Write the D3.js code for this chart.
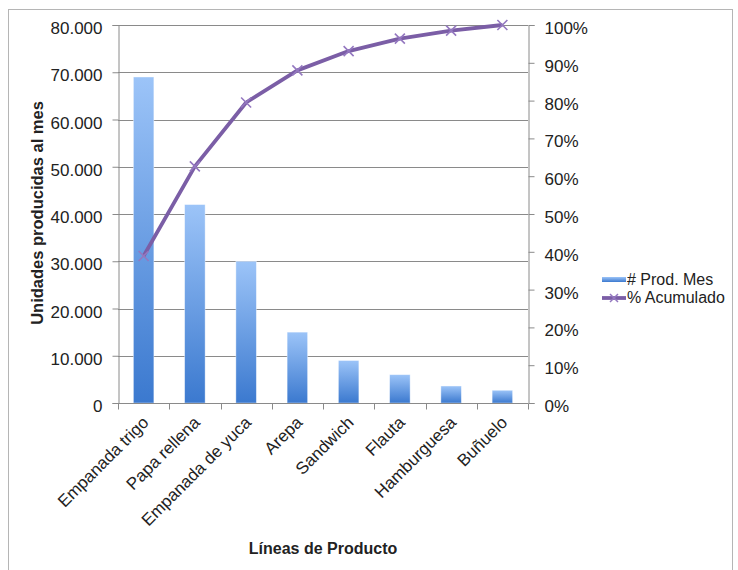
<!DOCTYPE html>
<html>
<head>
<meta charset="utf-8">
<script src="https://cdn.jsdelivr.net/npm/d3@7/dist/d3.min.js"></script>
<style>
  html, body { margin: 0; padding: 0; background: #fff; }
  svg { display: block; font-family: "Liberation Sans", Arial, Helvetica, sans-serif; }
</style>
</head>
<body>
<svg id="chart" width="738" height="570"></svg>
<script>
// Product lines, monthly production and cumulative share
const categories = ["Empanada trigo", "Papa rellena", "Empanada de yuca", "Arepa", "Sandwich", "Flauta", "Hamburguesa", "Buñuelo"];
const prodMes = [69000, 42000, 30000, 15000, 9000, 6000, 3600, 2700];
const pctAcum = [38.9, 62.6, 79.5, 88.0, 93.1, 96.4, 98.5, 100];
const leftTicks = [0, 10000, 20000, 30000, 40000, 50000, 60000, 70000, 80000];
const rightTicks = [0, 10, 20, 30, 40, 50, 60, 70, 80, 90, 100];
const seriesNames = ["# Prod. Mes", "% Acumulado"];

const svg = d3.select("#chart");
const plot = { left: 118, right: 528, top: 25, bottom: 403 };
const axisColor = "#8a8a8a";
const textColor = "#222";

// Outer frame
svg.append("rect")
  .attr("x", 8.5).attr("y", 9.5)
  .attr("width", 724).attr("height", 580)
  .attr("fill", "none").attr("stroke", "#b5b5b5").attr("stroke-width", 1);

const x = d3.scaleBand().domain(categories).range([plot.left, plot.right]).padding(0);
const y = d3.scaleLinear().domain([0, 80000]).range([plot.bottom, plot.top]);
const y2 = d3.scaleLinear().domain([0, 100]).range([plot.bottom, plot.top]);

const es = d3.formatLocale({ decimal: ",", thousands: ".", grouping: [3], currency: ["$", ""] });
const fmtThousands = es.format(",d");

// Bar gradient: light at the top, deeper blue at the base
const defs = svg.append("defs");
const grad = defs.append("linearGradient")
  .attr("id", "barGrad").attr("x1", 0).attr("y1", 0).attr("x2", 0).attr("y2", 1);
grad.append("stop").attr("offset", "0%").attr("stop-color", "#9cc4f8");
grad.append("stop").attr("offset", "100%").attr("stop-color", "#3b79cf");

// Horizontal gridlines
svg.append("g")
  .selectAll("line")
  .data(leftTicks)
  .join("line")
  .attr("x1", plot.left).attr("x2", plot.right)
  .attr("y1", d => Math.round(y(d)) + 0.5).attr("y2", d => Math.round(y(d)) + 0.5)
  .attr("stroke", axisColor).attr("stroke-width", 1);

// Bars
const barW = x.bandwidth() * 0.4;
svg.append("g")
  .selectAll("rect")
  .data(prodMes)
  .join("rect")
  .attr("x", (d, i) => x(categories[i]) + x.bandwidth() / 2 - barW / 2)
  .attr("y", d => y(d))
  .attr("width", barW)
  .attr("height", d => plot.bottom - y(d))
  .attr("fill", "url(#barGrad)")
  .attr("stroke", "rgba(255,255,255,0.5)")
  .attr("stroke-width", 0.8);

// Left axis
const leftAxis = svg.append("g")
  .attr("transform", `translate(${plot.left + 0.5},0)`)
  .call(d3.axisLeft(y).tickValues(leftTicks).tickSize(6).tickPadding(10).tickFormat(d => d === 0 ? "0" : fmtThousands(d)));
leftAxis.select(".domain").attr("stroke", axisColor);
leftAxis.selectAll(".tick line").attr("stroke", axisColor);
leftAxis.selectAll(".tick text")
  .attr("fill", textColor).attr("font-size", 17).attr("dy", "0.5em");

// Right axis
const rightAxis = svg.append("g")
  .attr("transform", `translate(${plot.right + 0.5},0)`)
  .call(d3.axisRight(y2).tickValues(rightTicks).tickSize(6).tickPadding(10).tickFormat(d => d + "%"));
rightAxis.select(".domain").attr("stroke", axisColor);
rightAxis.selectAll(".tick line").attr("stroke", axisColor);
rightAxis.selectAll(".tick text")
  .attr("fill", textColor).attr("font-size", 17).attr("dy", "0.5em");

// Bottom axis with ticks on category boundaries
const bottomAxis = svg.append("g")
  .attr("transform", `translate(0,${plot.bottom + 0.5})`);
bottomAxis.append("line")
  .attr("x1", plot.left).attr("x2", plot.right)
  .attr("stroke", axisColor);
bottomAxis.selectAll("line.tk")
  .data(categories.map(c => x(c)).concat([plot.right]))
  .join("line").attr("class", "tk")
  .attr("x1", d => Math.round(d) + 0.5).attr("x2", d => Math.round(d) + 0.5)
  .attr("y1", 0).attr("y2", 6)
  .attr("stroke", axisColor);
bottomAxis.selectAll("text")
  .data(categories)
  .join("text")
  .attr("transform", d => `translate(${x(d) + x.bandwidth() / 2 + 6},${20}) rotate(-45)`)
  .attr("text-anchor", "end")
  .attr("font-size", 17)
  .attr("fill", textColor)
  .text(d => d);

// Cumulative percentage line
const line = d3.line()
  .x((d, i) => x(categories[i]) + x.bandwidth() / 2)
  .y(d => y2(d));
svg.append("path")
  .datum(pctAcum)
  .attr("d", line)
  .attr("fill", "none")
  .attr("stroke", "#7b5ea6")
  .attr("stroke-width", 3.8)
  .attr("stroke-linejoin", "round");

// X markers
const m = 5;
const markers = svg.append("g");
pctAcum.forEach((d, i) => {
  const cx = x(categories[i]) + x.bandwidth() / 2, cy = y2(d);
  markers.append("path")
    .attr("d", `M${cx - m},${cy - m}L${cx + m},${cy + m}M${cx - m},${cy + m}L${cx + m},${cy - m}`)
    .attr("stroke", "#9478c0").attr("stroke-width", 1.6).attr("fill", "none");
});

// Axis titles
svg.append("text")
  .attr("transform", `translate(43,213) rotate(-90)`)
  .attr("text-anchor", "middle")
  .attr("font-size", 16.5).attr("font-weight", "bold").attr("fill", textColor)
  .text("Unidades producidas al mes");

svg.append("text")
  .attr("x", 323).attr("y", 554)
  .attr("text-anchor", "middle")
  .attr("font-size", 16).attr("font-weight", "bold").attr("fill", textColor)
  .text("Líneas de Producto");

// Legend
const legend = svg.append("g");
legend.append("rect")
  .attr("x", 602).attr("y", 277).attr("width", 24).attr("height", 5)
  .attr("fill", "url(#barGrad)");
legend.append("text")
  .attr("x", 627).attr("y", 285)
  .attr("font-size", 16).attr("fill", textColor)
  .text(seriesNames[0]);
legend.append("line")
  .attr("x1", 602).attr("x2", 626).attr("y1", 298).attr("y2", 298)
  .attr("stroke", "#7b5ea6").attr("stroke-width", 3.8);
legend.append("path")
  .attr("d", `M${614 - 4},${298 - 4}L${614 + 4},${298 + 4}M${614 - 4},${298 + 4}L${614 + 4},${298 - 4}`)
  .attr("stroke", "#9478c0").attr("stroke-width", 1.5);
legend.append("text")
  .attr("x", 627).attr("y", 303)
  .attr("font-size", 16).attr("fill", textColor)
  .text(seriesNames[1]);
</script>
</body>
</html>
